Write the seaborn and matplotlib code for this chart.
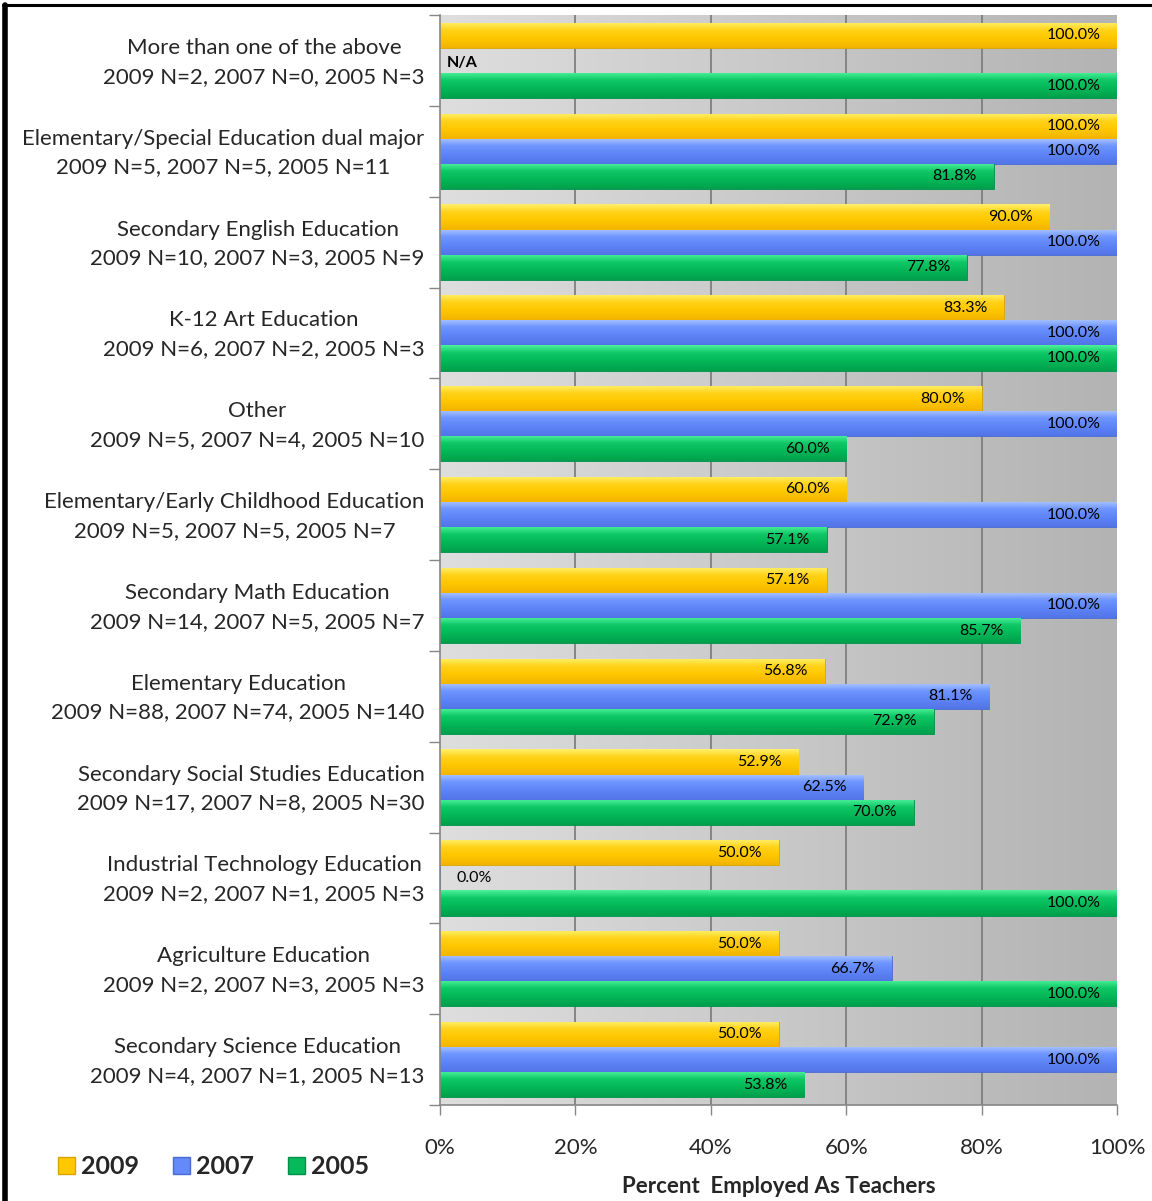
import numpy as np
import pandas as pd
import matplotlib
matplotlib.use("Agg")
import matplotlib.pyplot as plt
from matplotlib.colors import LinearSegmentedColormap
from matplotlib.patches import Patch
from matplotlib.lines import Line2D
import seaborn as sns

# Majors, top to bottom, with the group sizes shown under each name
majors = [
    "More than one of the above\n2009 N=2, 2007 N=0, 2005 N=3",
    "Elementary/Special Education dual major\n2009 N=5, 2007 N=5, 2005 N=11",
    "Secondary English Education\n2009 N=10, 2007 N=3, 2005 N=9",
    "K-12 Art Education\n2009 N=6, 2007 N=2, 2005 N=3",
    "Other\n2009 N=5, 2007 N=4, 2005 N=10",
    "Elementary/Early Childhood Education\n2009 N=5, 2007 N=5, 2005 N=7",
    "Secondary Math Education\n2009 N=14, 2007 N=5, 2005 N=7",
    "Elementary Education\n2009 N=88, 2007 N=74, 2005 N=140",
    "Secondary Social Studies Education\n2009 N=17, 2007 N=8, 2005 N=30",
    "Industrial Technology Education\n2009 N=2, 2007 N=1, 2005 N=3",
    "Agriculture Education\n2009 N=2, 2007 N=3, 2005 N=3",
    "Secondary Science Education\n2009 N=4, 2007 N=1, 2005 N=13",
]
years = ["2009", "2007", "2005"]

# Percent employed as teachers (None = no graduates that year)
pct_2009 = [100.0, 100.0, 90.0, 83.3, 80.0, 60.0, 57.1, 56.8, 52.9, 50.0, 50.0, 50.0]
pct_2007 = [None, 100.0, 100.0, 100.0, 100.0, 100.0, 100.0, 81.1, 62.5, 0.0, 66.7, 100.0]
pct_2005 = [100.0, 81.8, 77.8, 100.0, 60.0, 57.1, 85.7, 72.9, 70.0, 100.0, 100.0, 53.8]

x_ticks = [0, 20, 40, 60, 80, 100]
x_tick_labels = ["0%", "20%", "40%", "60%", "80%", "100%"]

colors = {"2009": "#FFC800", "2007": "#6389FA", "2005": "#06BA5C"}
edges = {"2009": "#D9A300", "2007": "#4A6AD0", "2005": "#00904A"}
# vertical shading of each bar: top highlight -> body -> lower edge
shades = {
    "2009": ["#FFF06A", "#FFD21A", "#FFC800", "#F2B400"],
    "2007": ["#A9C4FF", "#6F95FF", "#5F85F8", "#5274E6"],
    "2005": ["#4CF29A", "#0FC866", "#04B858", "#00A04C"],
}

rows = []
for yr, vals in zip(years, [pct_2009, pct_2007, pct_2005]):
    for m, v in zip(majors, vals):
        rows.append({"major": m, "year": yr, "pct": np.nan if v is None else v})
df = pd.DataFrame(rows)

sns.set_theme(style="white")
plt.rcParams["font.family"] = ["Lato", "DejaVu Sans"]

W, H = 1152, 1201
fig = plt.figure(figsize=(W / 100, H / 100), dpi=100)
ax = fig.add_axes([440 / W, 1 - 1105 / H, (1117 - 440) / W, (1105 - 15) / H])

# gray gradient plot area
grad = np.linspace(0, 1, 256).reshape(1, -1)
ax.imshow(grad, cmap=LinearSegmentedColormap.from_list("bg", ["#DEDEDE", "#B3B3B3"]),
          extent=[0, 1, 0, 1], transform=ax.transAxes, aspect="auto", zorder=0)

sns.barplot(data=df, y="major", x="pct", hue="year", hue_order=years,
            order=majors, orient="h", palette=colors, saturation=1, width=0.83,
            errorbar=None, ax=ax, legend=False, zorder=2)

vgrad = np.linspace(0, 1, 64).reshape(-1, 1)
for cont, yr in zip(ax.containers, years):
    cmap = LinearSegmentedColormap.from_list(
        "bar" + yr, list(zip([0.0, 0.3, 0.6, 1.0], shades[yr])))
    for p in cont.patches:
        p.set_edgecolor(edges[yr])
        p.set_linewidth(0.6)
        x0, y0, w, h = p.get_x(), p.get_y(), p.get_width(), p.get_height()
        if w <= 0:
            continue
        im = ax.imshow(vgrad, cmap=cmap, extent=[x0, x0 + w, y0 + h, y0],
                       aspect="auto", zorder=2.5, interpolation="bilinear")
        im.set_clip_path(p)

ax.set_xlim(0, 100)
ax.set_ylim(len(majors) - 0.5, -0.5)

# value labels at the end of each bar, matched to the bar's category row
for cont, yr, vals in zip(ax.containers, years, [pct_2009, pct_2007, pct_2005]):
    for p in cont.patches:
        yc = p.get_y() + p.get_height() / 2
        v = vals[int(round(yc))]
        if v == 0:
            ax.annotate(f"{v:.1f}%", (0, yc), xytext=(12, 0), textcoords="offset points",
                        ha="left", va="center", fontsize=11.5, color="black", zorder=5)
        else:
            ax.annotate(f"{v:.1f}%", (p.get_width(), yc), xytext=(-12, 0),
                        textcoords="offset points", ha="right", va="center",
                        fontsize=11.5, color="black", zorder=5)

# rows without a 2007 value
for i, v in enumerate(pct_2007):
    if v is None:
        ax.annotate("N/A", (0, i), xytext=(5, -2), textcoords="offset points",
                    ha="left", va="center", fontsize=11.5, fontweight="bold",
                    color="black", zorder=5)

# grid and axes
for xv in x_ticks[1:-1]:
    ax.axvline(xv, color="#7F7F7F", lw=1.3, zorder=1)
ax.set_xticks(x_ticks)
ax.set_xticklabels(x_tick_labels, fontsize=16)
ax.tick_params(axis="x", length=7, width=1, color="#868686", pad=17, direction="out",
               bottom=True)
# category names sit slightly above each group's centre
ax.set_yticks(np.arange(len(majors)) - 0.05)
ax.set_yticklabels(majors, fontsize=16, linespacing=1.55)
for t in ax.get_yticklabels():
    t.set_multialignment("center")
ax.tick_params(axis="y", length=0, pad=11)
ax.set_yticks(np.arange(-0.5, len(majors), 1.0), minor=True)
ax.tick_params(axis="y", which="minor", length=8, width=1, color="#868686", left=True)
for s in ["top", "right"]:
    ax.spines[s].set_visible(False)
for s in ["left", "bottom"]:
    ax.spines[s].set_color("#868686")
    ax.spines[s].set_linewidth(1.2)
ax.set_ylabel("")
ax.set_xlabel("Percent  Employed As Teachers", fontsize=16, fontweight="bold",
              labelpad=13)

# legend
handles = [Patch(facecolor=colors[y], edgecolor=edges[y], label=y) for y in years]
fig.legend(handles=handles, loc="center left", bbox_to_anchor=(35 / W, 1 - 1167 / H),
           ncol=3, frameon=False, prop={"size": 18, "weight": "bold"},
           handlelength=0.68, handleheight=0.68, handletextpad=0.25, columnspacing=1.35)

# page frame
fig.add_artist(Line2D([5 / W, 5 / W], [0, 1 - 5 / H], color="black", lw=4,
                      transform=fig.transFigure))
fig.add_artist(Line2D([3 / W, 1], [1 - 5 / H, 1 - 5 / H], color="black", lw=2.2,
                      transform=fig.transFigure))

fig.savefig("out.png", dpi=100)
